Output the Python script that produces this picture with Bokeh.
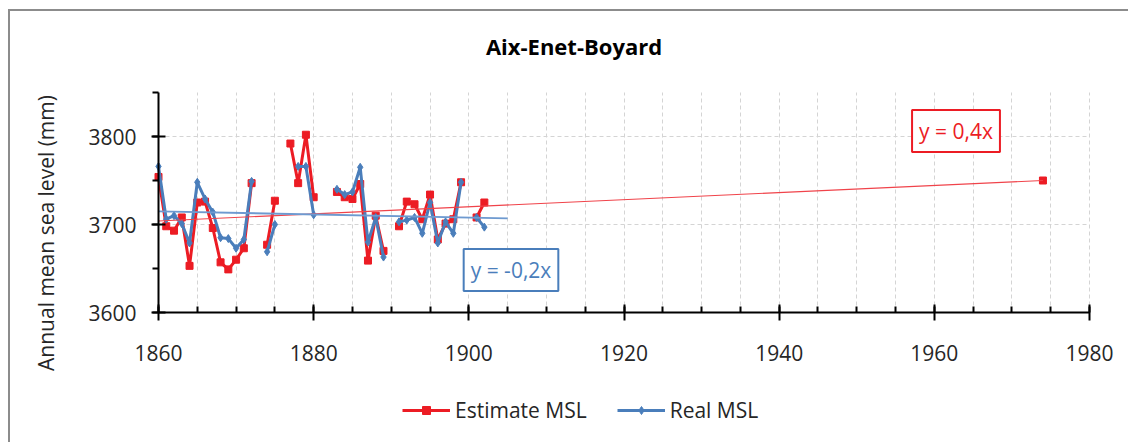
import math
from bokeh.plotting import figure
from bokeh.models import (Range1d, SingleIntervalTicker, Legend, LegendItem, Label,
                          Grid)
from bokeh.embed import file_html
from bokeh.resources import INLINE

# ---------------- data ----------------
TITLE = "Aix-Enet-Boyard"
Y_LABEL = "Annual mean sea level (mm)"

est_years = list(range(1860, 1904)) + [1974]
est_msl = [3754, 3698, 3693, 3708, 3653, 3725, 3726, 3696, 3657, 3649,
           3660, 3673, 3747, None, 3677, 3727, None, 3792, 3747, 3802,
           3731, None, None, 3737, 3731, 3729, 3746, 3659, 3710, 3670,
           None, 3698, 3726, 3723, 3706, 3734, 3683, 3701, 3706, 3748,
           None, 3708, 3725, None, 3750]

real_years = list(range(1860, 1903))
real_msl = [3766, 3706, 3710, 3701, 3679, 3748, 3729, 3714, 3685, 3684,
            3673, 3683, 3749, None, 3669, 3700, None, None, 3766, 3766,
            3711, None, None, 3740, 3734, 3737, 3765, 3680, 3708, 3663,
            None, 3703, 3705, 3708, 3690, 3725, 3679, 3703, 3690, 3748,
            None, 3708, 3697]

est_trend_years = [1860, 1974]
est_trend_vals = [3704, 3750]
real_trend_years = [1860, 1905]
real_trend_vals = [3715, 3707]

est_trend_text = "y = 0,4x"
real_trend_text = "y = -0,2x"
series_names = ["Estimate MSL", "Real MSL"]

X_MIN, X_MAX = 1860, 1980
Y_MIN, Y_MAX = 3600, 3850


def nanify(vals):
    return [float("nan") if v is None else v for v in vals]


# ---------------- layout (pixels inside the canvas) ----------------
W, H = 1120, 433
AX_LEFT, AX_RIGHT = 148, 1079      # canvas x of 1860 and 1980
AX_TOP, AX_BOTTOM = 81, 301        # canvas y of 3850 and 3600
PPX = (AX_RIGHT - AX_LEFT) / (X_MAX - X_MIN)
PPY = (AX_BOTTOM - AX_TOP) / (Y_MAX - Y_MIN)
x0 = X_MIN - AX_LEFT / PPX
x1 = X_MIN + (W - AX_LEFT) / PPX
y1 = Y_MAX + AX_TOP / PPY
y0 = Y_MIN - (H - AX_BOTTOM) / PPY


def dx(px):
    return x0 + px / PPX


def dy(py):
    return y1 - py / PPY


RED = "#EC1C24"
BLUE = "#4A7EBB"
FONT = "Open Sans"
TXT = "#262626"

p = figure(width=W, height=H, output_backend="svg", toolbar_location=None,
           x_range=Range1d(x0, x1), y_range=Range1d(y0, y1),
           min_border=0, min_border_left=0, min_border_right=0,
           min_border_top=0, min_border_bottom=0)
p.margin = (11, 0, 0, 10)
p.styles = {"box-shadow": "-2px -2px 0 0 #8c8c8c"}
p.outline_line_color = None
p.background_fill_color = "white"
p.border_fill_color = "white"

# axes
xa = p.xaxis[0]
ya = p.yaxis[0]
xa.fixed_location = Y_MIN
ya.fixed_location = X_MIN
xa.bounds = (X_MIN, X_MAX)
ya.bounds = (Y_MIN, Y_MAX)
xa.ticker = SingleIntervalTicker(interval=20, num_minor_ticks=4)
ya.ticker = SingleIntervalTicker(interval=100, num_minor_ticks=2)
for ax in (xa, ya):
    ax.axis_line_color = "black"
    ax.axis_line_width = 2
    ax.major_tick_line_color = "black"
    ax.major_tick_line_width = 2
    ax.minor_tick_line_color = "black"
    ax.minor_tick_line_width = 2
    ax.major_label_text_font = FONT
    ax.major_label_text_font_size = "21px"
    ax.major_label_text_color = TXT
xa.major_tick_in = 8
xa.major_tick_out = 8
xa.minor_tick_in = 6
xa.minor_tick_out = 0
xa.major_label_standoff = 24
ya.major_tick_in = 7
ya.major_tick_out = 7
ya.minor_tick_in = 0
ya.minor_tick_out = 6
ya.major_label_standoff = 15

# grids
p.xgrid.ticker = SingleIntervalTicker(interval=5)
p.ygrid.ticker = SingleIntervalTicker(interval=100)
p.xgrid.bounds = (X_MIN, X_MAX)
p.ygrid.bounds = (Y_MIN, Y_MAX)
if "cross_bounds" in Grid.properties():
    p.xgrid.cross_bounds = (Y_MIN, Y_MAX)
    p.ygrid.cross_bounds = (X_MIN, X_MAX)
for g in (p.xgrid, p.ygrid):
    g.grid_line_color = "#d4d4d4"
    g.grid_line_dash = "4 3"
    g.grid_line_width = 1

# series
r_est_line = p.line(est_years, nanify(est_msl), line_color=RED, line_width=3)
r_est_pts = p.scatter(est_years, nanify(est_msl), marker="square", size=7,
                      fill_color=RED, line_color=RED)
r_real_line = p.line(real_years, nanify(real_msl), line_color=BLUE, line_width=3)
r_real_pts = p.scatter(real_years, nanify(real_msl), marker="diamond", size=8,
                       fill_color=BLUE, line_color=BLUE)

# trend lines
p.line(est_trend_years, est_trend_vals, line_color="#F0434A", line_width=1.2)
p.line(real_trend_years, real_trend_vals, line_color="#6E9AD0", line_width=1.8)

# title and y label
p.add_layout(Label(x=dx(563.5), y=dy(34), text=TITLE, text_align="center",
                   text_baseline="middle", text_font=FONT, text_font_size="22px",
                   text_font_style="bold", text_color="black"))
p.add_layout(Label(x=dx(35), y=dy(221.5), text=Y_LABEL, angle=math.pi / 2,
                   text_align="center", text_baseline="middle", text_font=FONT,
                   text_font_size="21px", text_color=TXT))

# trend labels
p.add_layout(Label(x=dx(945.5), y=dy(119.5), text=est_trend_text, text_align="center",
                   text_baseline="middle", text_font=FONT, text_font_size="21px",
                   text_color=RED, background_fill_color="white",
                   border_line_color=RED, border_line_width=2, padding=7))
p.add_layout(Label(x=dx(500.5), y=dy(258.5), text=real_trend_text, text_align="center",
                   text_baseline="middle", text_font=FONT, text_font_size="21px",
                   text_color=BLUE, background_fill_color="white",
                   border_line_color=BLUE, border_line_width=2, padding=7))

# legend
legend = Legend(items=[LegendItem(label=series_names[0], renderers=[r_est_line, r_est_pts]),
                       LegendItem(label=series_names[1], renderers=[r_real_line, r_real_pts])],
                location=(392, 20), orientation="horizontal",
                glyph_width=48, glyph_height=20, label_standoff=5, spacing=30,
                padding=0, margin=0, border_line_color=None,
                background_fill_alpha=0,
                label_text_font=FONT, label_text_font_size="21px",
                label_text_color=TXT, label_height=24)
p.add_layout(legend, "center")

open("out.html", "w").write(file_html(p, INLINE))
